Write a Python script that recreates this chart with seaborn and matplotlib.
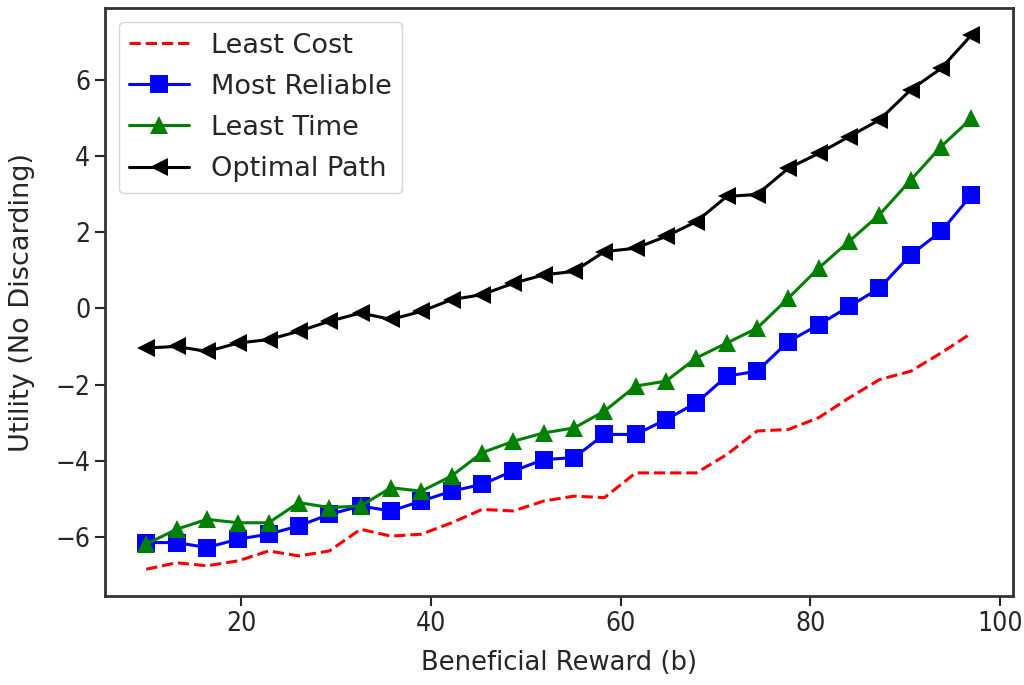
#!/usr/bin/env python3

import numpy as np
import pandas as pd
import seaborn as sns
import matplotlib
matplotlib.use('Agg')
import matplotlib.pyplot as plt

# beneficial reward values (x axis)
reward = [10.0, 13.2, 16.4, 19.7, 22.9, 26.1, 29.3, 32.6, 35.8, 39.0,
          42.2, 45.4, 48.7, 51.9, 55.1, 58.3, 61.6, 64.8, 68.0, 71.2,
          74.4, 77.7, 80.9, 84.1, 87.3, 90.6, 93.8, 97.0]

least_cost = [-6.85, -6.68, -6.76, -6.63, -6.37, -6.50, -6.37, -5.80, -5.98, -5.93,
              -5.63, -5.28, -5.32, -5.06, -4.93, -4.97, -4.32, -4.32, -4.32, -3.84,
              -3.22, -3.18, -2.87, -2.35, -1.87, -1.65, -1.17, -0.65]

most_reliable = [-6.15, -6.15, -6.28, -6.06, -5.93, -5.71, -5.41, -5.19, -5.32, -5.06,
                 -4.80, -4.62, -4.27, -3.97, -3.92, -3.31, -3.31, -2.92, -2.48, -1.78,
                 -1.65, -0.87, -0.43, 0.05, 0.53, 1.41, 2.02, 2.98]

least_time = [-6.19, -5.80, -5.54, -5.63, -5.63, -5.10, -5.23, -5.19, -4.71, -4.80,
              -4.40, -3.79, -3.49, -3.27, -3.14, -2.70, -2.04, -1.91, -1.30, -0.91,
              -0.52, 0.27, 1.06, 1.76, 2.46, 3.37, 4.25, 4.99]

optimal_path = [-1.04, -1.00, -1.13, -0.91, -0.82, -0.60, -0.34, -0.12, -0.29, -0.08,
                0.23, 0.36, 0.66, 0.88, 0.97, 1.49, 1.58, 1.89, 2.28, 2.94,
                2.99, 3.68, 4.07, 4.51, 4.95, 5.74, 6.30, 7.18]

df = pd.DataFrame({'reward': reward,
                   'Least Cost': least_cost,
                   'Most Reliable': most_reliable,
                   'Least Time': least_time,
                   'Optimal Path': optimal_path})

sns.set_style('ticks')
plt.rcParams['font.family'] = ['DejaVu Sans']

fig = plt.figure(figsize=(10.24, 6.85), dpi=100)
ax = fig.add_axes([0.1025, 0.130, 0.8865, 0.858])

styles = {'Least Cost': dict(color='red', linestyle='--', marker=None),
          'Most Reliable': dict(color='blue', linestyle='-', marker='s'),
          'Least Time': dict(color='green', linestyle='-', marker='^'),
          'Optimal Path': dict(color='black', linestyle='-', marker='<')}

for name in ['Least Cost', 'Most Reliable', 'Least Time', 'Optimal Path']:
    st = styles[name]
    sns.lineplot(x='reward', y=name, data=df, ax=ax,
                 color=st['color'], linestyle=st['linestyle'], marker=st['marker'],
                 markersize=13, markeredgewidth=0, linewidth=2.2, label=name)

ax.set_xlabel('Beneficial Reward (b)', fontsize=18.6, color='#262626', labelpad=10)
ax.set_ylabel('Utility (No Discarding)', fontsize=19.5, color='#262626', labelpad=15)
ax.set_xticks([20, 40, 60, 80, 100])
ax.set_yticks([-6, -4, -2, 0, 2, 4, 6])
ax.tick_params(labelsize=19, length=7, width=1.5, colors='#262626')
# tick labels look narrower than the rest of the text
plt.setp(ax.get_xticklabels() + ax.get_yticklabels(), fontstretch='condensed')
for s in ax.spines.values():
    s.set_visible(True)
    s.set_linewidth(2)
    s.set_color('#333333')

leg = ax.legend(loc='upper left', fontsize=19.5, frameon=True, fancybox=True,
                framealpha=0.8, edgecolor='#cccccc', handlelength=2.2,
                labelspacing=0.56)

fig.savefig('out.png', dpi=100)
